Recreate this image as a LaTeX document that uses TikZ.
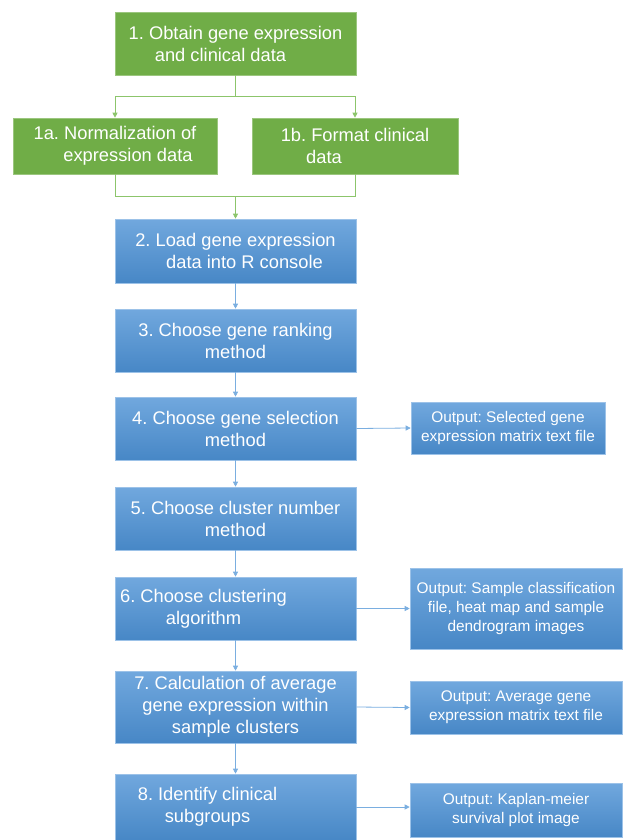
\documentclass[tikz,border=0pt]{standalone}
\usepackage{fontspec}
\setmainfont{Liberation Sans}
\usetikzlibrary{arrows.meta}
\definecolor{stepgreen}{HTML}{70AD47}
\definecolor{linegreen}{HTML}{8CC56B}
\definecolor{bluetop}{HTML}{71A8DE}
\definecolor{bluebot}{HTML}{4787C6}
\definecolor{blueline}{HTML}{7AAEE0}
\definecolor{blueedge}{HTML}{9CC2E8}
\frenchspacing
\begin{document}
\begin{tikzpicture}[x=1pt, y=-1pt,
  greenbox/.style={draw=stepgreen!70!white, fill=stepgreen, text=white, align=center,
                   font=\fontsize{18.3}{22}\selectfont, inner sep=0pt, line width=0.6pt},
  stepbox/.style={draw=blueedge, top color=bluetop, bottom color=bluebot, text=white,
                  align=center, font=\fontsize{18.3}{22}\selectfont, inner sep=0pt,
                  minimum width=241pt, minimum height=63pt, line width=0.6pt},
  outbox/.style={stepbox, font=\fontsize{15.4}{19}\selectfont, minimum width=212pt,
                 minimum height=53pt},
  gline/.style={draw=linegreen, line width=0.8pt},
  garrow/.style={gline, -{Triangle[length=5pt, width=5pt]}},
  barrow/.style={draw=blueline, line width=0.8pt, -{Triangle[length=5pt, width=5pt]}}
]
  \useasboundingbox (0,0) rectangle (622,840);

  \node[greenbox, minimum width=241pt, minimum height=63pt] (b1) at (235.5,43.5)
    {1. Obtain gene expression\\ \hspace*{-30pt}and clinical data};
  \node[greenbox, minimum width=204pt, minimum height=56pt] (b1a) at (115,146)
    {1a. Normalization of\\ \hspace*{26pt}expression data};
  \node[greenbox, minimum width=206pt, minimum height=56pt] (b1b) at (355,146)
    {1b. Format clinical\\ \hspace*{-62pt}data};

  \node[stepbox, minimum height=64pt] (b2) at (235.5,251)
    {2. Load gene expression\\ \hspace*{18pt}data into R console};
  \node[stepbox] (b3) at (235.5,340.5) {3. Choose gene ranking\\ method};
  \node[stepbox] (b4) at (235.5,428.5) {4. Choose gene selection\\ method};
  \node[stepbox] (b5) at (235.5,518.5) {5. Choose cluster number\\ method};
  \node[stepbox] (b6) at (235.5,608.5)
    {6. Choose clustering\hspace*{64pt}\\ algorithm\hspace*{64pt}};
  \node[stepbox, minimum height=72pt] (b7) at (235.5,707)
    {7. Calculation of average\\ gene expression within\\ sample clusters};
  \node[stepbox, minimum height=66pt] (b8) at (235.5,807)
    {8. Identify clinical\hspace*{56pt}\\ subgroups\hspace*{56pt}};

  \node[outbox, minimum width=194pt, minimum height=52pt] (o4) at (508,428)
    {Output: Selected gene\\ expression matrix text file};
  \node[outbox, minimum height=81pt] (o6) at (516,608.5)
    {Output: Sample classification\\ file, heat map and sample\\ dendrogram images};
  \node[outbox] (o7) at (516,707.5)
    {Output: Average gene\\ expression matrix text file};
  \node[outbox, minimum height=54pt] (o8) at (516,810)
    {Output: Kaplan-meier\\ survival plot image};

  \coordinate (split) at (235.5,96);
  \coordinate (join) at (235.5,196);
  \draw[gline] (b1.south) -- (split);
  \draw[garrow] (split) -| (b1a.north);
  \draw[garrow] (split) -| (b1b.north);
  \draw[gline] (b1a.south) |- (join);
  \draw[gline] (b1b.south) |- (join);
  \draw[garrow] (join) -- (b2.north);

  \draw[barrow] (b2) -- (b3);
  \draw[barrow] (b3) -- (b4);
  \draw[barrow] (b4) -- (b5);
  \draw[barrow] (b5) -- (b6);
  \draw[barrow] (b6) -- (b7);
  \draw[barrow] (b7) -- (b8);

  \draw[barrow] (b4.east) -- (o4.west);
  \draw[barrow] (b6.east) -- (o6.west);
  \draw[barrow] (b7.east) -- (o7.west);
  \draw[barrow] (b8.east) -- (b8.east -| o8.west);
\end{tikzpicture}
\end{document}
